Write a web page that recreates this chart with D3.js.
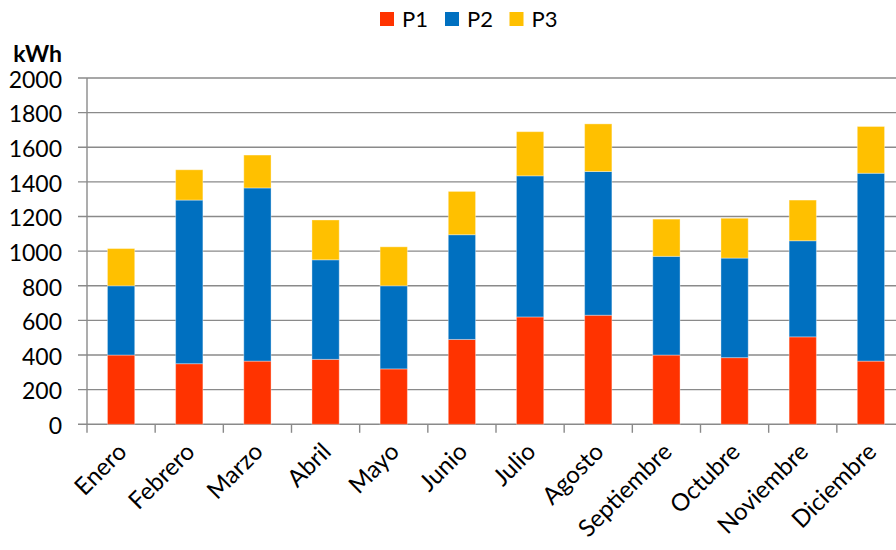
<!DOCTYPE html>
<html>
<head>
<meta charset="utf-8">
<script src="https://cdn.jsdelivr.net/npm/d3@7"></script>
<style>
  html, body { margin: 0; padding: 0; background: #fff; }
  svg { display: block; }
  text { font-family: Lato, "Open Sans", sans-serif; fill: #000; }
</style>
</head>
<body>
<svg id="chart" width="896" height="550"></svg>
<script>
// Monthly consumption by tariff period (kWh)
const months = ["Enero", "Febrero", "Marzo", "Abril", "Mayo", "Junio",
  "Julio", "Agosto", "Septiembre", "Octubre", "Noviembre", "Diciembre"];
const p1 = [400, 350, 365, 375, 320, 490, 620, 630, 400, 385, 505, 365];
const p2 = [400, 945, 1000, 575, 480, 605, 815, 830, 570, 575, 555, 1085];
const p3 = [215, 175, 190, 230, 225, 250, 255, 275, 215, 230, 235, 270];
const seriesNames = ["P1", "P2", "P3"];
const seriesColors = ["#FF3300", "#0070C0", "#FFC000"];
const yTicks = [0, 200, 400, 600, 800, 1000, 1200, 1400, 1600, 1800, 2000];
const unitLabel = "kWh";

const svg = d3.select("#chart");
const plotLeft = 87, plotRight = 905, plotTop = 78, plotBottom = 424.3;

const rows = months.map((m, i) => ({ month: m, P1: p1[i], P2: p2[i], P3: p3[i] }));
const stacked = d3.stack().keys(seriesNames)(rows);

const x = d3.scaleBand().domain(months).range([plotLeft, plotRight])
  .paddingInner(0.6).paddingOuter(0.3);
const y = d3.scaleLinear().domain([0, 2000]).range([plotBottom, plotTop]);

// Horizontal gridlines with left tick marks
svg.append("g").selectAll("line").data(yTicks).join("line")
  .attr("x1", plotLeft - 9).attr("x2", 896)
  .attr("y1", d => y(d)).attr("y2", d => y(d))
  .attr("stroke", "#8a8a8a").attr("stroke-width", 1.4);

// Y labels
svg.append("g").selectAll("text").data(yTicks).join("text")
  .attr("x", 62).attr("y", d => y(d) + 1.5)
  .attr("dy", "0.36em")
  .attr("text-anchor", "end")
  .style("font-size", "23px")
  .text(d => d);

// Unit label
svg.append("text")
  .attr("x", 62).attr("y", 61.5)
  .attr("text-anchor", "end")
  .style("font-size", "23px").style("font-weight", "bold")
  .text(unitLabel);

// Stacked bars
svg.append("g").selectAll("g").data(stacked).join("g")
  .attr("fill", (d, i) => seriesColors[i])
  .selectAll("rect").data(d => d).join("rect")
  .attr("x", d => x(d.data.month))
  .attr("width", x.bandwidth())
  .attr("y", d => y(d[1]))
  .attr("height", d => y(d[0]) - y(d[1]))
  .attr("stroke", "rgba(255,255,255,0.35)")
  .attr("stroke-width", 1);

// Vertical axis line
svg.append("line")
  .attr("x1", plotLeft).attr("x2", plotLeft)
  .attr("y1", plotTop).attr("y2", plotBottom + 8.5)
  .attr("stroke", "#8a8a8a").attr("stroke-width", 1.4);

// Category boundary ticks below the baseline
const step = x.step();
const boundaries = d3.range(1, months.length + 1).map(i => plotLeft + i * step);
svg.append("g").selectAll("line").data(boundaries).join("line")
  .attr("x1", d => d).attr("x2", d => d)
  .attr("y1", plotBottom).attr("y2", plotBottom + 8.5)
  .attr("stroke", "#8a8a8a").attr("stroke-width", 1.4);

// Rotated month labels
svg.append("g").selectAll("text").data(months).join("text")
  .attr("transform", d => `translate(${x(d) + x.bandwidth() / 2 + 1},${plotBottom + 23}) rotate(-45)`)
  .attr("text-anchor", "end")
  .attr("dy", "0.35em")
  .style("font-size", "24px")
  .text(d => d);

// Legend
const legendX = [380, 445, 509.5];
const legend = svg.append("g");
seriesNames.forEach((name, i) => {
  legend.append("rect")
    .attr("x", legendX[i]).attr("y", 12)
    .attr("width", 14).attr("height", 14)
    .attr("fill", seriesColors[i]);
  legend.append("text")
    .attr("x", legendX[i] + 22).attr("y", 26.5)
    .style("font-size", "22px")
    .text(name);
});
</script>
</body>
</html>
